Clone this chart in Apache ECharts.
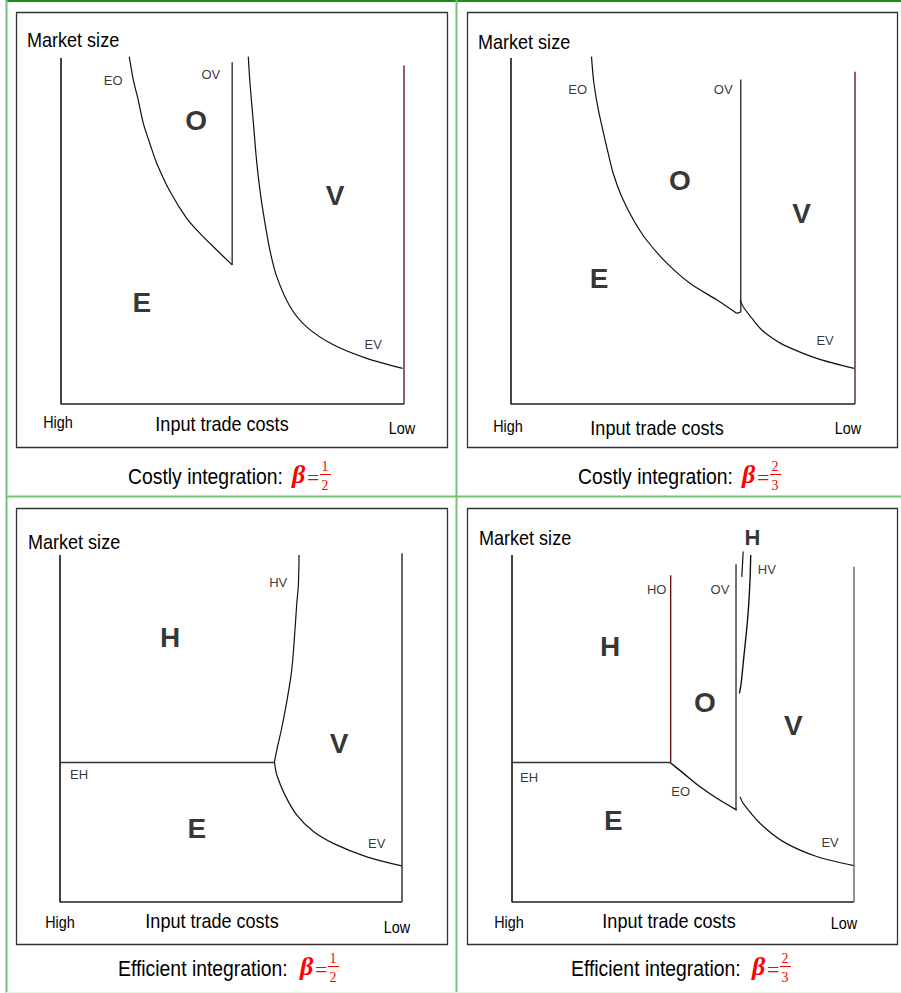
<!DOCTYPE html>
<html><head><meta charset="utf-8">
<script src="https://cdn.jsdelivr.net/npm/echarts@6/dist/echarts.min.js"></script>
<style>html,body{margin:0;padding:0;background:#fff}#c{width:901px;height:993px}</style>
</head><body><div id="c"></div>
<script>
// ---- Panel 1: Costly integration, beta = 1/2 ----
const tlEO = [[19.9,100.4],[21.1,93.6],[22.5,87.9],[24.0,81.1],[25.9,75.3],[27.9,69.6],[31.8,61.4],[36.6,53.7],[40.5,49.3],[45.4,44.5],[49.9,40.2]];
const tlOV = [[49.9,40.2],[49.9,98.8]];
const tlEV = [[54.6,100.4],[55.1,92.7],[56.1,81.1],[57.0,70.5],[58.0,61.8],[59.0,55.1],[60.9,44.5],[62.9,36.8],[66.8,28.1],[71.6,22.3],[79.4,17.1],[89.1,13.2],[99.6,10.3]];
const tlRight = [[100,0],[100,97.8]];
const tlSmall = [['EO',15.2,93.6],['OV',43.7,95.1],['EV',91.0,17.3]];
const tlBig = [['O',39.4,81.8],['V',79.9,60.4],['E',23.6,29.2]];

// ---- Panel 2: Costly integration, beta = 2/3 ----
const trEO = [[23.4,100.4],[24.1,92.7],[25.4,85.0],[27.8,74.4],[29.7,66.7],[32.2,59.9],[35.6,53.2],[39.4,47.4],[45.3,40.7],[52.0,34.9],[59.8,30.1],[65.6,26.2]];
const trOV = [[65.6,26.2],[66.8,26.6],[66.8,93.8]];
const trEV = [[66.6,30.1],[67.5,28.1],[70.0,24.8],[72.4,21.9],[75.3,19.5],[79.2,17.1],[88.9,13.2],[99.7,10.3]];
const trRight = [[100,0],[100,96.0]];
const trSmall = [['EO',19.4,91.0],['OV',61.7,90.8],['EV',91.3,18.3]];
const trBig = [['O',49.1,64.7],['V',84.5,55.1],['E',25.6,36.4]];

// ---- Panel 3: Efficient integration, beta = 1/2 ----
const blEH = [[0,40.2],[62.6,40.2]];
const blHV = [[62.7,40.4],[63.5,44.3],[64.8,50.0],[66.3,57.7],[67.7,66.4],[68.4,74.1],[69.2,85.6],[69.7,91.4],[69.9,100]];
const blEV = [[62.7,40.4],[63.4,36.6],[65.8,30.8],[69.2,25.1],[74.1,20.3],[79.9,16.9],[89.7,13.0],[99.9,10.4]];
const blRight = [[100,0],[100,100.5]];
const blSmall = [['HV',63.8,92.1],['EH',5.6,36.6],['EV',92.6,16.9]];
const blBig = [['H',32.2,76.2],['V',81.6,45.7],['E',40.0,21.2]];

// ---- Panel 4: Efficient integration, beta = 2/3 ----
const brEH = [[0,40.2],[46.2,40.2]];
const brHO = [[46.4,40.2],[46.4,94.2]];
const brEO = [[46.2,40.2],[50.0,37.2],[55.0,33.2],[59.9,29.9],[65.7,26.5]];
const brOV = [[65.5,26.5],[65.5,97.3]];
const brHV = [[66.5,60.1],[67.0,63.0],[67.6,68.8],[68.1,73.6],[68.6,78.4],[69.1,84.1],[69.6,92.8],[69.8,100]];
const brHVtop = [[67.2,93.7],[67.6,101]];
const brEV = [[66.7,30.3],[67.6,28.4],[72.5,22.7],[79.3,17.4],[89.1,13.1],[100,10.5]];
const brRight = [[100,0],[100,96.6]];
const brSmall = [['HO',42.3,90.1],['OV',60.8,90.1],['HV',74.5,95.7],['EH',5.0,35.9],['EO',49.3,31.8],['EV',93.0,17.2]];
const brBig = [['H',28.7,73.6],['O',56.4,57.6],['V',82.3,50.8],['E',29.6,23.6]];
const brTopH = [['H',70.3,105.1]];

// ---- Text ----
const yName = 'Market size';
const xName = 'Input trade costs';
const xLow = 'Low', xHigh = 'High';
const titles = ['Costly integration:', 'Costly integration:', 'Efficient integration:', 'Efficient integration:'];
const betaNum = ['1','2','1','2'];
const betaDen = ['2','3','2','3'];

const grids = [
  {left:61, top:58, width:343, height:346},
  {left:511, top:58, width:344, height:346},
  {left:60, top:555, width:342, height:347},
  {left:512, top:555, width:342, height:347}
];

const SANS = 'Liberation Sans, Arial, sans-serif';
const SERIF = 'Liberation Serif, Times New Roman, serif';
const series = [];
function line(data, gi, color, width, smooth){
  series.push({type:'line', xAxisIndex:gi, yAxisIndex:gi, data:data, symbol:'none', showSymbol:false,
    smooth: smooth ? 0.3 : false, clip:false, silent:true, animation:false,
    lineStyle:{color:color, width:width}});
}
function labels(arr, gi, size, bold){
  series.push({type:'scatter', xAxisIndex:gi, yAxisIndex:gi, symbolSize:0, clip:false, silent:true, animation:false,
    data: arr.map(a => ({name:a[0], value:[a[1],a[2]]})),
    label:{show:true, position:'inside', formatter:'{b}', fontSize:size, fontWeight: bold?'bold':'normal',
      fontFamily:SANS, color:'#000'}});
}
const AX = '#222', CV = '#111', DR = '#5a0a0a';
for (let g=0; g<4; g++) line([[0,100],[0,0],[100,0]], g, AX, 1.7, false);

line(tlEO,0,CV,1.2,true); line(tlOV,0,CV,1.2,false); line(tlEV,0,CV,1.2,true); line(tlRight,0,DR,1.3,false);
labels(tlSmall,0,13,false); labels(tlBig,0,28,true);

line(trEO,1,CV,1.2,true); line(trOV,1,CV,1.2,false); line(trEV,1,CV,1.2,true); line(trRight,1,DR,1.3,false);
labels(trSmall,1,13,false); labels(trBig,1,28,true);

line(blEH,2,'#333',1.5,false); line(blHV,2,CV,1.2,true); line(blEV,2,CV,1.2,true); line(blRight,2,'#333',1.5,false);
labels(blSmall,2,13,false); labels(blBig,2,28,true);

line(brEH,3,'#333',1.5,false); line(brHO,3,DR,1.3,false); line(brEO,3,CV,1.4,true); line(brOV,3,CV,1.2,false);
line(brHV,3,CV,1.4,true); line(brHVtop,3,CV,1.2,false); line(brEV,3,CV,1.2,true); line(brRight,3,'#777',1.6,false);
labels(brSmall,3,13,false); labels(brBig,3,28,true); labels(brTopH,3,22,true);

// ---- Decorative frame & texts (graphic) ----
const graphic = [];
function gline(x1,y1,x2,y2,color,w){ graphic.push({type:'line', silent:true, shape:{x1,y1,x2,y2}, style:{stroke:color, lineWidth:w}}); }
function gtext(t,x,y,size,align,opts){
  opts = opts||{};
  graphic.push({type:'text', silent:true, x:x, y:y, scaleX: opts.sx || 1,
    style:{text:t, fontSize:size, fontFamily:opts.ff||SANS, fontWeight:opts.fw||'normal', fontStyle:opts.fs||'normal',
      fill:opts.color||'#000', textAlign:align, textVerticalAlign:'middle', align:align, verticalAlign:'middle'}});
}
// green cell lines
gline(6,1,901,1,'#1a8c1a',2);
gline(6.5,0,6.5,993,'#74c274',2);
gline(456.5,0,456.5,993,'#74c274',2);
gline(6,496.5,901,496.5,'#74c274',2);
gline(6,992.5,901,992.5,'#e6f4e6',1);
// panel boxes
const boxes = [[16,12,431,435],[467,12,430,435],[16,508,431,436],[467,508,430,436]];
boxes.forEach(b => graphic.push({type:'rect', silent:true, shape:{x:b[0]+0.5,y:b[1]+0.5,width:b[2],height:b[3]}, style:{fill:'none', stroke:'#333', lineWidth:1.3}}));

const txt = [
  // [marketLeft, marketY, highX, highY, inputX, inputY, lowX, lowY]
  [27,40, 58,422, 222,424, 402,428],
  [478,42, 508,426, 657,428, 848,428],
  [28,542, 60,922, 212,921, 397,927],
  [479,538, 509,922, 669,921, 844,923]
];
txt.forEach(t => {
  gtext(yName, t[0], t[1], 20.5, 'left', {sx:0.88});
  gtext(xHigh, t[2], t[3], 16, 'center', {sx:0.9});
  gtext(xName, t[4], t[5], 20.5, 'center', {sx:0.88});
  gtext(xLow, t[6], t[7], 16, 'center', {sx:0.9});
});
// titles with beta fraction
const tpos = [[128,476,164],[578,476,164],[118,968,182],[571,968,181]];
tpos.forEach((p,i) => {
  const bx = p[0]+p[2], y = p[1];
  gtext(titles[i], p[0], y, 22, 'left', {sx:0.88});
  gtext('\u03B2', bx, y-2, 26, 'left', {ff:SERIF, fw:'bold', fs:'italic', color:'#f00'});
  gtext('=', bx+15, y+1, 22, 'left', {ff:SERIF, color:'#f00'});
  gtext(betaNum[i], bx+33, y-10, 14, 'center', {ff:SERIF, color:'#f00'});
  gline(bx+28, y-1.5, bx+39, y-1.5, '#f00', 1);
  gtext(betaDen[i], bx+33, y+9, 14, 'center', {ff:SERIF, color:'#f00'});
});

const option = {
  animation:false,
  backgroundColor:'#fff',
  grid: grids,
  xAxis: grids.map((g,i) => ({type:'value', gridIndex:i, min:0, max:100, show:false})),
  yAxis: grids.map((g,i) => ({type:'value', gridIndex:i, min:0, max:100, show:false})),
  series: series,
  graphic: graphic
};
const chart = echarts.init(document.getElementById('c'), null, {renderer:'svg'});
chart.setOption(option);
</script></body></html>
